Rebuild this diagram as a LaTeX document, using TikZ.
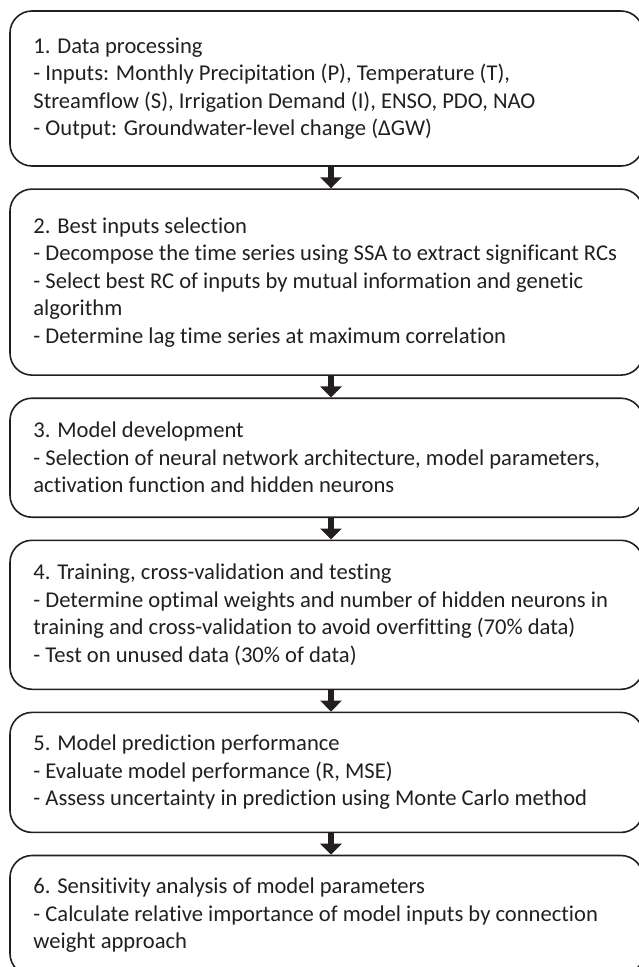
\documentclass[tikz,border=0pt]{standalone}
\usepackage{fontspec}
\setmainfont{Carlito}[Ligatures=NoCommon]
\usepackage{tikz}
\usetikzlibrary{arrows.meta,positioning}
\definecolor{ink}{HTML}{231F20}

\begin{document}
\begin{tikzpicture}[x=1pt,y=1pt,
  stagebox/.style={draw=ink,line width=1.6pt,rounded corners=22pt,minimum width=633pt,inner sep=0pt},
  stagetext/.style={text=ink,align=left,inner sep=0pt,font=\fontsize{22.6}{27.5}\selectfont},
  flowarrow/.style={draw=ink,line width=6pt,-{Triangle[width=21pt,length=11pt]}},
  node distance=21.5pt]
\useasboundingbox (0,0) rectangle (638,-967);
\node[stagebox,minimum height=155pt] (b1) at (326.5,-88.5) {};
\node[stagebox,minimum height=186pt,below=of b1] (b2) {};
\node[stagebox,minimum height=119pt,below=of b2] (b3) {};
\node[stagebox,minimum height=149pt,below=of b3] (b4) {};
\node[stagebox,minimum height=120pt,below=of b4] (b5) {};
\node[stagebox,minimum height=120pt,below=of b5] (b6) {};
\node[stagetext,right=24pt of b1.west] (t1) {1. Data processing\\
  - Inputs: Monthly Precipitation (P), Temperature (T),\\
  Streamflow (S), Irrigation Demand (I), ENSO, PDO, NAO\\
  - Output: Groundwater-level change (ΔGW)};
\node[stagetext,right=24pt of b2.west] (t2) {2. Best inputs selection\\
  - Decompose the time series using SSA to extract significant RCs\\
  - Select best RC of inputs by mutual information and genetic\\
  algorithm\\
  - Determine lag time series at maximum correlation};
\node[stagetext,right=24pt of b3.west] (t3) {3. Model development\\
  - Selection of neural network architecture, model parameters,\\
  activation function and hidden neurons};
\node[stagetext,right=24pt of b4.west] (t4) {4. Training, cross-validation and testing\\
  - Determine optimal weights and number of hidden neurons in\\
  training and cross-validation to avoid overfitting (70\% data)\\
  - Test on unused data (30\% of data)};
\node[stagetext,right=24pt of b5.west] (t5) {5. Model prediction performance\\
  - Evaluate model performance (R, MSE)\\
  - Assess uncertainty in prediction using Monte Carlo method};
\node[stagetext,right=24pt of b6.west] (t6) {6. Sensitivity analysis of model parameters\\
  - Calculate relative importance of model inputs by connection\\
  weight approach};
\foreach \a/\b in {b1/b2,b2/b3,b3/b4,b4/b5,b5/b6}
  \draw[flowarrow] ([xshift=4.5pt]\a.south) -- ([xshift=4.5pt]\b.north);
\end{tikzpicture}
\end{document}
